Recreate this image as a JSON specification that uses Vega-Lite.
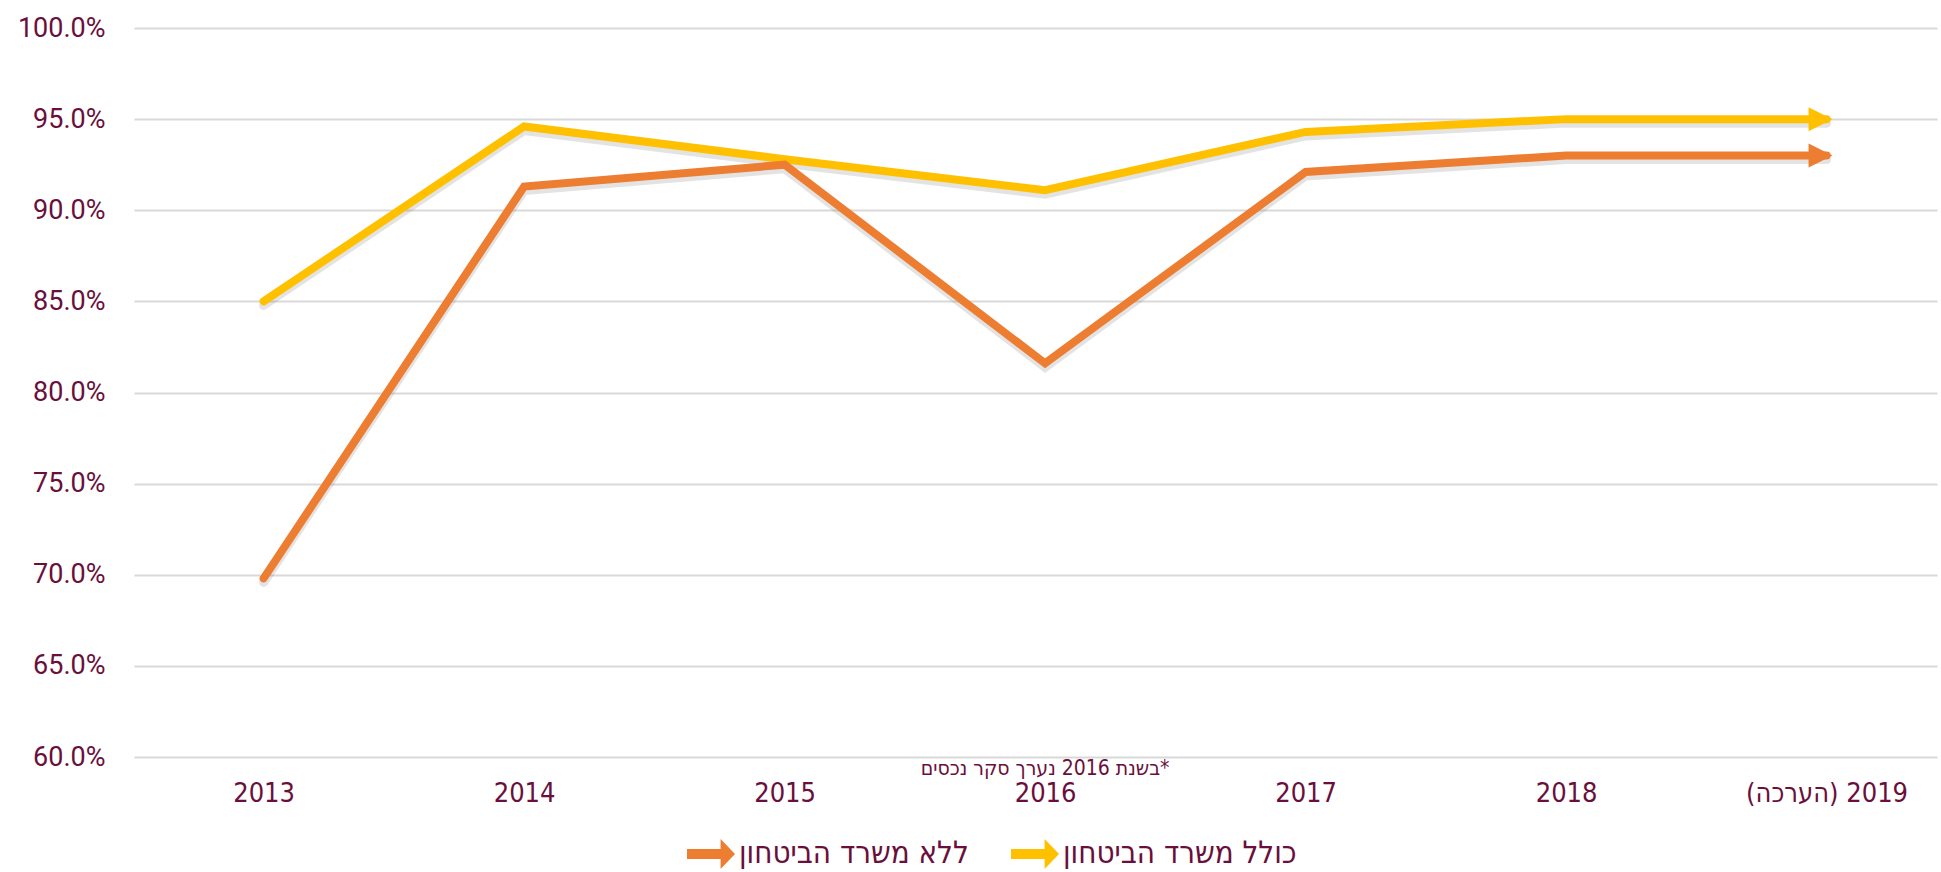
{
  "$schema": "https://vega.github.io/schema/vega-lite/v6.json",
  "width": 1803,
  "height": 729,
  "autosize": {"type": "none"},
  "padding": {"left": 134, "top": 28, "right": 4, "bottom": 115},
  "background": "white",
  "config": {"view": {"stroke": null}, "font": "Roboto"},
  "data": {
    "values": [
      {"year": "2013", "series": "כולל משרד הביטחון", "value": 85.0},
      {"year": "2014", "series": "כולל משרד הביטחון", "value": 94.6},
      {"year": "2015", "series": "כולל משרד הביטחון", "value": 92.8},
      {"year": "2016", "series": "כולל משרד הביטחון", "value": 91.1},
      {"year": "2017", "series": "כולל משרד הביטחון", "value": 94.3},
      {"year": "2018", "series": "כולל משרד הביטחון", "value": 95.0},
      {"year": "2019", "series": "כולל משרד הביטחון", "value": 95.0},
      {"year": "2013", "series": "ללא משרד הביטחון", "value": 69.8},
      {"year": "2014", "series": "ללא משרד הביטחון", "value": 91.3},
      {"year": "2015", "series": "ללא משרד הביטחון", "value": 92.5},
      {"year": "2016", "series": "ללא משרד הביטחון", "value": 81.6},
      {"year": "2017", "series": "ללא משרד הביטחון", "value": 92.1},
      {"year": "2018", "series": "ללא משרד הביטחון", "value": 93.0},
      {"year": "2019", "series": "ללא משרד הביטחון", "value": 93.0}
    ]
  },
  "layer": [
    {
      "mark": {"type": "line", "strokeWidth": 9, "strokeCap": "round", "strokeJoin": "miter", "color": "#7f7f7f", "opacity": 0.22},
      "encoding": {
        "x": {
          "field": "year", "type": "nominal",
          "scale": {"type": "point", "padding": 0.4607, "align": 0.54},
          "axis": {
            "title": null, "domain": false, "ticks": false, "grid": false,
            "labelAngle": 0, "labelFont": "DejaVu Sans Condensed, Roboto", "labelFontSize": 27,
            "labelColor": "#6a0f3c", "labelPadding": 36, "labelBaseline": "middle", "labelLimit": 400,
            "labelExpr": "datum.value == '2019' ? '\u200f2019 (הערכה)\u200f' : datum.value"
          }
        },
        "y": {
          "field": "value", "type": "quantitative",
          "scale": {"domain": [60, 100], "nice": false, "zero": false},
          "axis": {
            "title": null, "domain": false, "ticks": false,
            "values": [60, 65, 70, 75, 80, 85, 90, 95, 100],
            "gridColor": "#d9d9d9", "gridWidth": 2,
            "labelFont": "Roboto", "labelFontSize": 27, "labelColor": "#6a0f3c", "labelPadding": 29,
            "labelExpr": "format(datum.value, '.1f') + '%'"
          }
        },
        "detail": {"field": "series", "type": "nominal"},
        "yOffset": {"value": 4}
      }
    },
    {
      "mark": {"type": "line", "strokeWidth": 8, "strokeCap": "round", "strokeJoin": "miter"},
      "encoding": {
        "x": {"field": "year", "type": "nominal"},
        "y": {"field": "value", "type": "quantitative"},
        "color": {
          "field": "series", "type": "nominal",
          "scale": {"domain": ["ללא משרד הביטחון", "כולל משרד הביטחון"], "range": ["#ED7D31", "#FFC000"]},
          "legend": {
            "orient": "none", "legendX": 553, "legendY": 802, "direction": "horizontal", "title": null,
            "symbolType": "M-1,-0.21L0.4,-0.21L0.4,-0.62L1,0L0.4,0.62L0.4,0.21L-1,0.21Z",
            "symbolSize": 2304, "symbolStrokeWidth": 0, "symbolOpacity": 1,
            "labelFont": "DejaVu Sans Condensed, Liberation Sans", "labelFontSize": 31, "labelColor": "#6a0f3c",
            "labelOffset": 4, "columnPadding": 42, "labelLimit": 400,
            "encode": {"symbols": {"update": {"fill": {"scale": "color", "field": "value"}, "strokeWidth": {"value": 0}, "opacity": {"value": 1}}}}
          }
        }
      }
    },
    {
      "transform": [{"filter": "datum.year == '2019'"}],
      "mark": {"type": "point", "shape": "M-1.5,-1L0.5,0L-1.5,1Z", "size": 576, "filled": true, "opacity": 1, "strokeWidth": 0},
      "encoding": {
        "x": {"field": "year", "type": "nominal"},
        "y": {"field": "value", "type": "quantitative"},
        "color": {"field": "series", "type": "nominal", "legend": null}
      }
    },
    {
      "data": {"values": [{"year": "2016", "value": 60, "note": "\u200f*בשנת 2016 נערך סקר נכסים"}]},
      "mark": {"type": "text", "dy": 12, "baseline": "middle", "align": "center", "font": "DejaVu Sans Condensed, Liberation Sans", "fontSize": 21, "color": "#6a0f3c"},
      "encoding": {
        "x": {"field": "year", "type": "nominal"},
        "y": {"field": "value", "type": "quantitative"},
        "text": {"field": "note"}
      }
    }
  ]
}
